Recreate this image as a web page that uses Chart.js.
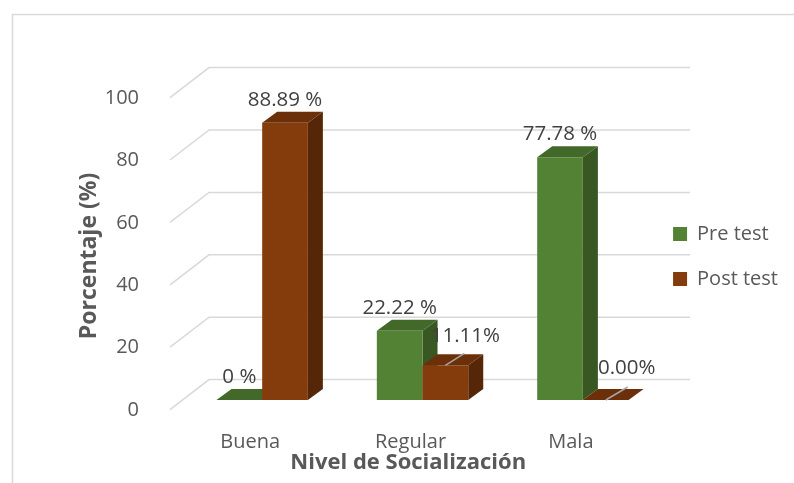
<!DOCTYPE html>
<html>
<head>
<meta charset="utf-8">
<script src="https://cdn.jsdelivr.net/npm/chart.js@4.4.1/dist/chart.umd.min.js"></script>
<style>
  html, body { margin: 0; padding: 0; background: #fff; }
</style>
</head>
<body>
<canvas id="chart-area" width="794" height="483"></canvas>
<script>
//data
var categories = ["Buena", "Regular", "Mala"];
var seriesNames = ["Pre test", "Post test"];
var preTest = [0, 22.22, 77.78];
var postTest = [88.89, 11.11, 0];
var preLabels = ["0 %", "22.22 %", "77.78 %"];
var postLabels = ["88.89 %", "11.11%", "0.00%"];
var yTicks = [0, 20, 40, 60, 80, 100];

//colors: front, top, side
var greenFaces = ["#548235", "#43692a", "#385723"];
var brownFaces = ["#843c0c", "#6b300a", "#562608"];

//3d geometry (excel style perspective)
var DEPTH_DX = 15, DEPTH_DY = -11;     //bar depth
var FRONT_DX = -12, FRONT_DY = 9.6;     //floor front edge from bar plane
var BACK_DX = 27, BACK_DY = -20.4;      //back wall from bar plane

Chart.defaults.font.family = "'Open Sans', 'Noto Sans', sans-serif";
var textColor = '#595959';

function poly(ctx, pts, color) {
    ctx.beginPath();
    ctx.moveTo(pts[0][0], pts[0][1]);
    for (var i = 1; i < pts.length; i++) {
        ctx.lineTo(pts[i][0], pts[i][1]);
    }
    ctx.closePath();
    ctx.fillStyle = color;
    ctx.fill();
}

var bars3d = {
    id: 'bars3d',
    beforeDraw: function (chart) {
        var ctx = chart.ctx;
        ctx.save();
        ctx.fillStyle = '#ffffff';
        ctx.fillRect(0, 0, chart.width, chart.height);
        ctx.strokeStyle = '#d9d9d9';
        ctx.lineWidth = 1.5;
        ctx.strokeRect(12.5, 14.5, chart.width, chart.height);
        ctx.restore();
    },
    beforeDatasetsDraw: function (chart) {
        var ctx = chart.ctx;
        var area = chart.chartArea;
        var yScale = chart.scales.y;

        //gridlines: floor diagonal + back wall
        ctx.save();
        ctx.strokeStyle = '#d9d9d9';
        ctx.lineWidth = 1.5;
        yTicks.forEach(function (v) {
            var y = yScale.getPixelForValue(v);
            ctx.beginPath();
            ctx.moveTo(area.left + FRONT_DX, y + FRONT_DY);
            ctx.lineTo(area.left + BACK_DX, y + BACK_DY);
            ctx.lineTo(area.right + BACK_DX, y + BACK_DY);
            ctx.stroke();
        });
        ctx.restore();

        //bars: side, top then front face (library element)
        var faces = [greenFaces, brownFaces];
        for (var i = 0; i < categories.length; i++) {
            for (var d = 0; d < chart.data.datasets.length; d++) {
                var bar = chart.getDatasetMeta(d).data[i];
                var p = bar.getProps(['x', 'y', 'base', 'width']);
                var l = p.x - p.width / 2, r = p.x + p.width / 2;
                ctx.save();
                poly(ctx, [[r, p.y], [r + DEPTH_DX, p.y + DEPTH_DY], [r + DEPTH_DX, p.base + DEPTH_DY], [r, p.base]], faces[d][2]);
                poly(ctx, [[l, p.y], [l + DEPTH_DX, p.y + DEPTH_DY], [r + DEPTH_DX, p.y + DEPTH_DY], [r, p.y]], faces[d][1]);
                ctx.restore();
                bar.draw(ctx, area);
            }
        }
        return false;
    },
    afterDraw: function (chart) {
        var ctx = chart.ctx;
        var labels = [preLabels, postLabels];
        //labels moved off the bar, with leader line: [dx, dy, lineDx, lineDy]
        var moved = { '1-1': [20, -29, 19, -12], '1-2': [21, -32, 22, -13] };
        ctx.save();
        ctx.font = "20.5px 'Open Sans'";
        ctx.fillStyle = '#404040';
        ctx.textAlign = 'center';
        ctx.textBaseline = 'middle';
        for (var d = 0; d < 2; d++) {
            var meta = chart.getDatasetMeta(d);
            for (var i = 0; i < categories.length; i++) {
                var bar = meta.data[i];
                var m = moved[d + '-' + i];
                if (m) {
                    ctx.strokeStyle = '#a6a6a6';
                    ctx.lineWidth = 1.5;
                    ctx.beginPath();
                    ctx.moveTo(bar.x, bar.y);
                    ctx.lineTo(bar.x + m[2], bar.y + m[3]);
                    ctx.stroke();
                    ctx.fillText(labels[d][i], bar.x + m[0], bar.y + m[1]);
                } else {
                    ctx.fillText(labels[d][i], bar.x, bar.y - 23);
                }
            }
        }
        ctx.restore();
    }
};

var chart = new Chart(document.getElementById('chart-area').getContext('2d'), {
    type: 'bar',
    plugins: [bars3d],
    data: {
        labels: categories,
        datasets: [
            { label: seriesNames[0], data: preTest, backgroundColor: greenFaces[0] },
            { label: seriesNames[1], data: postTest, backgroundColor: brownFaces[0] }
        ]
    },
    options: {
        responsive: false,
        animation: false,
        layout: { padding: { left: 76, top: 88, right: 6, bottom: 0 } },
        datasets: { bar: { categoryPercentage: 0.57, barPercentage: 1 } },
        plugins: {
            tooltip: { enabled: false },
            legend: {
                position: 'right',
                fullSize: false,
                title: { display: true, text: ' ', font: { size: 10, lineHeight: 1 }, padding: { top: 15, bottom: 15 } },
                labels: {
                    color: textColor,
                    font: { size: 20, lineHeight: 1.75 },
                    boxWidth: 14,
                    boxHeight: 14,
                    padding: 10,
                    generateLabels: function (c) {
                        var items = Chart.defaults.plugins.legend.labels.generateLabels(c);
                        items.forEach(function (it) {
                            it.text = [it.text];
                            it.lineWidth = 0;
                        });
                        return items;
                    }
                }
            }
        },
        scales: {
            x: {
                grid: { display: false },
                border: { display: false },
                afterFit: function (axis) { axis.height = 83; },
                ticks: { color: textColor, font: { size: 20 }, labelOffset: -12, padding: 22 },
                title: {
                    display: true,
                    //trailing spaces keep the title centred on the floor front edge
                    text: 'Nivel de Socialización     ',
                    color: textColor,
                    font: { size: 22, weight: 'bold' },
                    padding: { top: 0, bottom: 7 }
                }
            },
            y: {
                min: 0,
                max: 100,
                grid: { display: false },
                border: { display: false },
                afterFit: function (axis) { axis.width = 106; },
                afterBuildTicks: function (axis) {
                    axis.ticks = yTicks.map(function (v) { return { value: v }; });
                },
                ticks: { color: textColor, font: { size: 20 }, labelOffset: 10, padding: 35 },
                title: {
                    display: true,
                    text: 'Porcentaje (%)    ',
                    color: textColor,
                    font: { size: 23, weight: 'bold' },
                    padding: { top: 0, bottom: 0 }
                }
            }
        }
    }
});
</script>
</body>
</html>
